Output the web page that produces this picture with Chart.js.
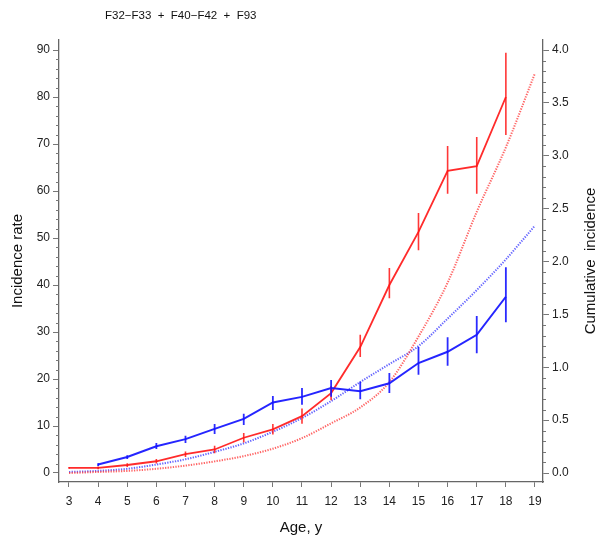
<!DOCTYPE html>
<html><head><meta charset="utf-8">
<script src="https://cdn.jsdelivr.net/npm/chart.js@4.4.0/dist/chart.umd.min.js"></script>
<style>html,body{margin:0;padding:0;background:#fff;}#wrap{width:606px;height:535px;}</style>
</head><body><div id="wrap"><canvas id="c" width="606" height="535"></canvas></div>
<script>
const chartTitle = 'F32\u2212F33  +  F40\u2212F42  +  F93';
const xTitle = 'Age, y';
const yLeftTitle = 'Incidence rate';
const yRightTitle = 'Cumulative  incidence';
const xTicks = [3,4,5,6,7,8,9,10,11,12,13,14,15,16,17,18,19];
const yLeftTicks = [0,10,20,30,40,50,60,70,80,90];
const yRightTicks = [0,0.5,1.0,1.5,2.0,2.5,3.0,3.5,4.0];

const redAges  = [3,4,5,6,7,8,9,10,11,12,13,14,15,16,17,18];
const redRate  = [1.1,1.1,1.7,2.5,4.0,5.0,7.5,9.3,12.1,17.0,26.8,40.0,51.3,64.3,65.3,80.0];
const redLow   = [0.9,0.8,1.3,2.0,3.4,4.2,6.5,8.2,10.5,15.5,24.7,37.2,47.4,59.4,59.4,71.9];
const redHigh  = [1.3,1.4,2.1,3.0,4.6,5.8,8.5,10.4,13.7,18.5,29.4,43.6,55.3,69.6,71.5,89.4];

const blueAges = [4,5,6,7,8,9,10,11,12,13,14,15,16,17,18];
const blueRate = [1.8,3.4,5.7,7.2,9.4,11.5,15.0,16.2,18.1,17.4,19.1,23.4,25.8,29.4,37.5];
const blueLow  = [1.5,3.0,5.1,6.4,8.3,10.2,13.4,14.5,16.2,15.7,17.0,20.9,22.8,25.5,32.1];
const blueHigh = [2.1,3.8,6.4,7.9,10.4,12.6,16.4,18.1,19.8,19.4,21.3,26.8,28.9,33.4,43.8];

const cumAges  = [3,4,5,6,7,8,9,10,11,12,13,14,15,16,17,18,19];
const redCum   = [0.00,0.01,0.02,0.04,0.07,0.11,0.16,0.23,0.33,0.47,0.62,0.86,1.29,1.80,2.47,3.08,3.78];
const blueCum  = [0.01,0.02,0.04,0.08,0.13,0.20,0.28,0.39,0.52,0.68,0.86,1.03,1.20,1.46,1.73,2.02,2.34];

const FONT = 'Liberation Sans, Arial, Helvetica, sans-serif';
const pts = (xs, ys) => xs.map((x, i) => ({x: x, y: ys[i]}));

const errorBars = {
  id: 'errorBars',
  afterDatasetsDraw(chart) {
    const ctx = chart.ctx, xs = chart.scales.x, ys = chart.scales.y;
    const draw = (ages, lo, hi, color, w) => {
      ctx.save();
      ctx.strokeStyle = color; ctx.lineWidth = w;
      ctx.beginPath();
      ages.forEach((a, i) => {
        const px = xs.getPixelForValue(a);
        ctx.moveTo(px, ys.getPixelForValue(lo[i]));
        ctx.lineTo(px, ys.getPixelForValue(hi[i]));
      });
      ctx.stroke();
      ctx.restore();
    };
    draw(redAges, redLow, redHigh, 'rgba(255,20,20,0.85)', 1.6);
    draw(blueAges, blueLow, blueHigh, 'rgba(20,20,255,0.9)', 1.8);
  }
};

const extras = {
  id: 'extras',
  afterDraw(chart) {
    const ctx = chart.ctx, y = chart.scales.y, y2 = chart.scales.y2, ca = chart.chartArea;
    ctx.save();
    ctx.strokeStyle = '#777'; ctx.lineWidth = 1;
    ctx.beginPath();
    for (let v = 2; v <= 90; v += 2) {
      if (v % 10 === 0) continue;
      const py = Math.round(y.getPixelForValue(v)) + 0.5;
      ctx.moveTo(y.right, py); ctx.lineTo(y.right - 3, py);
    }
    for (let k = 1; k <= 40; k++) {
      if (k % 5 === 0) continue;
      const py = Math.round(y2.getPixelForValue(k / 10)) + 0.5;
      ctx.moveTo(y2.left, py); ctx.lineTo(y2.left + 3, py);
    }
    ctx.stroke();
    ctx.fillStyle = '#111';
    ctx.font = '11.5px ' + FONT;
    ctx.textBaseline = 'middle';
    ctx.textAlign = 'left';
    ctx.fillText(chartTitle, 105, 16);
    ctx.translate(591, (ca.top + ca.bottom) / 2);
    ctx.rotate(-Math.PI / 2);
    ctx.textAlign = 'center';
    ctx.font = '15px ' + FONT;
    ctx.fillText(yRightTitle, 0, 0);
    ctx.restore();
  }
};

const tickFont = {family: FONT, size: 12};
new Chart(document.getElementById('c'), {
  type: 'line',
  data: {
    datasets: [
      {data: pts(blueAges, blueRate), yAxisID: 'y', borderColor: 'rgba(25,25,255,0.95)', borderWidth: 2, pointRadius: 0, tension: 0, order: 1},
      {data: pts(redAges, redRate), yAxisID: 'y', borderColor: 'rgba(255,25,25,0.92)', borderWidth: 1.8, pointRadius: 0, tension: 0, order: 2},
      {data: pts(cumAges, redCum), yAxisID: 'y2', borderColor: 'rgba(255,50,50,0.75)', borderWidth: 2, borderDash: [1.3, 1.3], pointRadius: 0, cubicInterpolationMode: 'monotone', order: 3},
      {data: pts(cumAges, blueCum), yAxisID: 'y2', borderColor: 'rgba(50,50,255,0.75)', borderWidth: 2, borderDash: [1.3, 1.3], pointRadius: 0, cubicInterpolationMode: 'monotone', order: 4}
    ]
  },
  options: {
    responsive: false, animation: false, devicePixelRatio: 1,
    layout: {padding: {top: 40, left: 0, right: 0, bottom: 0}},
    plugins: {legend: {display: false}, tooltip: {enabled: false}, title: {display: false}},
    scales: {
      x: {
        type: 'linear', position: 'bottom', min: 2.657, max: 19.275,
        afterBuildTicks: s => { s.ticks = xTicks.map(v => ({value: v})); },
        afterFit: s => { s.height = 53; },
        grid: {drawOnChartArea: false, drawTicks: true, tickLength: 5, tickColor: '#777', tickWidth: 1},
        border: {display: true, color: '#666', width: 1.3},
        ticks: {padding: 7, font: tickFont, color: '#222', autoSkip: false, maxRotation: 0, callback: v => String(v)},
        title: {display: true, text: xTitle, font: {family: FONT, size: 15, lineHeight: 1}, padding: 0, color: '#111'}
      },
      y: {
        type: 'linear', position: 'left', min: -1.915, max: 92.13,
        afterBuildTicks: s => { s.ticks = yLeftTicks.map(v => ({value: v})); },
        afterFit: s => { s.width = 59; },
        grid: {drawOnChartArea: false, drawTicks: true, tickLength: 6, tickColor: '#777', tickWidth: 1},
        border: {display: true, color: '#666', width: 1.3},
        ticks: {padding: 3, font: tickFont, color: '#222', callback: v => String(v)},
        title: {display: true, text: yLeftTitle, font: {family: FONT, size: 15}, padding: {top: 9, bottom: 0}, color: '#111'}
      },
      y2: {
        type: 'linear', position: 'right', min: -0.085, max: 4.0946,
        afterBuildTicks: s => { s.ticks = yRightTicks.map(v => ({value: v})); },
        afterFit: s => { s.width = 63; },
        grid: {drawOnChartArea: false, drawTicks: true, tickLength: 6, tickColor: '#777', tickWidth: 1},
        border: {display: true, color: '#666', width: 1.3},
        ticks: {padding: 3, font: tickFont, color: '#222', callback: v => v.toFixed(1)},
        title: {display: false}
      }
    }
  },
  plugins: [errorBars, extras]
});
</script></body></html>
